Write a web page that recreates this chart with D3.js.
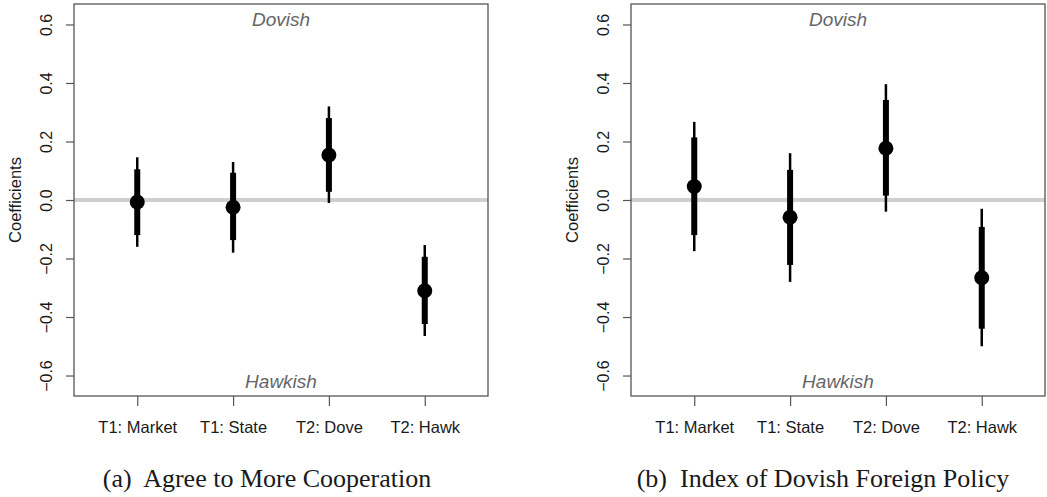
<!DOCTYPE html>
<html>
<head>
<meta charset="utf-8">
<script src="https://cdn.jsdelivr.net/npm/d3@7"></script>
<style>
  body { margin: 0; background: #fff; }
  svg { display: block; }
  .tick-label { font-family: "Liberation Sans", Arial, sans-serif; fill: #1a1a1a; }
  .caption { font-family: "Liberation Serif", "Times New Roman", serif; fill: #1a1a1a; white-space: pre; }
</style>
</head>
<body>
<div id="chart"></div>
<script>
var width = 1047;
var height = 497;

// treatments on the x axis
var categories = ["T1: Market", "T1: State", "T2: Dove", "T2: Hawk"];
var yTicks = [-0.6, -0.4, -0.2, 0.0, 0.2, 0.4, 0.6];

// (a) agree to more cooperation
var coopEst = [-0.007, -0.025, 0.154, -0.31];
var coopLo90 = [-0.12, -0.137, 0.028, -0.424];
var coopHi90 = [0.105, 0.093, 0.28, -0.194];
var coopLo95 = [-0.16, -0.18, -0.01, -0.465];
var coopHi95 = [0.146, 0.13, 0.32, -0.154];

// (b) index of dovish foreign policy
var indexEst = [0.046, -0.059, 0.177, -0.266];
var indexLo90 = [-0.12, -0.222, 0.015, -0.44];
var indexHi90 = [0.214, 0.103, 0.342, -0.092];
var indexLo95 = [-0.175, -0.28, -0.04, -0.50];
var indexHi95 = [0.267, 0.16, 0.396, -0.03];

var captions = ["(a)  Agree to More Cooperation", "(b)  Index of Dovish Foreign Policy"];

var svg = d3.select("#chart")
  .append("svg")
  .attr("width", width)
  .attr("height", height);

var panels = [
  { left: 74, est: coopEst, lo90: coopLo90, hi90: coopHi90, lo95: coopLo95, hi95: coopHi95, caption: captions[0], capX: 267 },
  { left: 631, est: indexEst, lo90: indexLo90, hi90: indexHi90, lo95: indexLo95, hi95: indexHi95, caption: captions[1], capX: 823 }
];

var boxW = 414;
var plotTop = 4;
var plotBottom = 396;

var y = d3.scaleLinear()
  .domain([-0.67, 0.67])
  .range([plotBottom, plotTop]);

panels.forEach(function (p) {
  var g = svg.append("g");

  var x = d3.scalePoint()
    .domain(categories)
    .range([p.left, p.left + boxW])
    .padding(0.66);

  // zero reference line
  g.append("line")
    .attr("x1", p.left).attr("x2", p.left + boxW)
    .attr("y1", y(0)).attr("y2", y(0))
    .style("stroke", "#cfcfcf")
    .style("stroke-width", 4);

  // y axis
  var yAxis = g.append("g")
    .attr("transform", "translate(" + p.left + ",0)")
    .call(d3.axisLeft(y).tickValues(yTicks).tickSize(8).tickFormat(d3.format(".1f")));
  yAxis.select(".domain").remove();
  yAxis.selectAll(".tick line").style("stroke", "#555").style("stroke-width", 1.2);
  yAxis.selectAll(".tick text")
    .attr("class", "tick-label")
    .attr("x", null).attr("dy", null)
    .attr("transform", "translate(-22,0) rotate(-90)")
    .attr("text-anchor", "middle")
    .style("font-size", "16px");

  // x axis
  var xAxis = g.append("g")
    .attr("transform", "translate(0," + plotBottom + ")")
    .call(d3.axisBottom(x).tickSize(10).tickPadding(22));
  xAxis.select(".domain").remove();
  xAxis.selectAll(".tick line").style("stroke", "#555").style("stroke-width", 1.2);
  xAxis.selectAll(".tick text")
    .attr("class", "tick-label")
    .attr("dy", null)
    .attr("y", 37)
    .style("font-size", "16.5px");

  // axis title
  g.append("text")
    .attr("class", "tick-label")
    .attr("transform", "translate(" + (p.left - 53) + "," + y(0) + ") rotate(-90)")
    .attr("text-anchor", "middle")
    .style("font-size", "16.5px")
    .text("Coefficients");

  // box
  g.append("rect")
    .attr("x", p.left).attr("y", plotTop)
    .attr("width", boxW).attr("height", plotBottom - plotTop)
    .style("fill", "none")
    .style("stroke", "#555")
    .style("stroke-width", 1.3);

  // direction labels
  g.append("text")
    .attr("x", p.left + boxW / 2).attr("y", 26)
    .attr("text-anchor", "middle")
    .style("font-family", "Liberation Sans, Arial, sans-serif")
    .style("font-style", "italic")
    .style("font-size", "19px")
    .style("fill", "#666")
    .text("Dovish");

  g.append("text")
    .attr("x", p.left + boxW / 2).attr("y", 388)
    .attr("text-anchor", "middle")
    .style("font-family", "Liberation Sans, Arial, sans-serif")
    .style("font-style", "italic")
    .style("font-size", "19px")
    .style("fill", "#666")
    .text("Hawkish");

  // 95% intervals (thin)
  g.selectAll(".ci95")
    .data(categories)
    .enter()
    .append("line")
    .attr("class", "ci95")
    .attr("x1", function (d) { return x(d); })
    .attr("x2", function (d) { return x(d); })
    .attr("y1", function (d, i) { return y(p.lo95[i]); })
    .attr("y2", function (d, i) { return y(p.hi95[i]); })
    .style("stroke", "#000")
    .style("stroke-width", 2.5);

  // 90% intervals (thick)
  g.selectAll(".ci90")
    .data(categories)
    .enter()
    .append("line")
    .attr("class", "ci90")
    .attr("x1", function (d) { return x(d); })
    .attr("x2", function (d) { return x(d); })
    .attr("y1", function (d, i) { return y(p.lo90[i]); })
    .attr("y2", function (d, i) { return y(p.hi90[i]); })
    .style("stroke", "#000")
    .style("stroke-width", 6);

  // point estimates
  g.selectAll(".est")
    .data(categories)
    .enter()
    .append("circle")
    .attr("class", "est")
    .attr("cx", function (d) { return x(d); })
    .attr("cy", function (d, i) { return y(p.est[i]); })
    .attr("r", 7.5)
    .style("fill", "#000");

  // caption
  svg.append("text")
    .attr("class", "caption")
    .attr("x", p.capX).attr("y", 487)
    .attr("text-anchor", "middle")
    .style("font-size", "26px")
    .text(p.caption);
});
</script>
</body>
</html>
